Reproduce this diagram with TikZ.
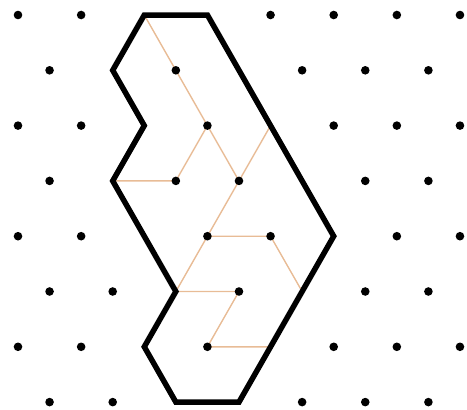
\documentclass[tikz,border=0pt]{standalone}
\definecolor{tanline}{RGB}{232,188,150}
\begin{document}
\begin{tikzpicture}[x=1pt,y=1pt,
  dotstyle/.style={fill=black},
  pathline/.style={draw=tanline,line width=1.4pt},
  outline/.style={draw=black,line width=5.5pt,line join=miter}]
\useasboundingbox (0,0) rectangle (467,-410);
\foreach \j in {0,...,7}{
  \foreach \i in {0,...,14}{
    \coordinate (p-\i-\j) at ({18+31.57*\i},{-(15+55.3*\j)});
  }
}
% tan lines
\draw[pathline] (p-4-0) -- (p-5-1) -- (p-6-2) -- (p-7-3);
\draw[pathline] (p-6-2) -- (p-5-3) -- (p-3-3);
\draw[pathline] (p-8-2) -- (p-7-3) -- (p-6-4) -- (p-5-5) -- (p-7-5) -- (p-6-6) -- (p-8-6);
\draw[pathline] (p-6-4) -- (p-8-4) -- (p-9-5);
% dots
\foreach \i/\j in {0/0,2/0,8/0,10/0,12/0,14/0,
  1/1,5/1,9/1,11/1,13/1,
  0/2,2/2,6/2,10/2,12/2,14/2,
  1/3,5/3,7/3,11/3,13/3,
  0/4,2/4,6/4,8/4,12/4,14/4,
  1/5,3/5,7/5,11/5,13/5,
  0/6,2/6,6/6,10/6,12/6,14/6,
  1/7,3/7,9/7,11/7,13/7}{
  \fill[dotstyle] (p-\i-\j) circle (4.3);
}
% outline
\draw[outline] (p-4-0) -- (p-6-0) -- (p-10-4) -- (p-7-7) -- (p-5-7) -- (p-4-6) -- (p-5-5) -- (p-3-3) -- (p-4-2) -- (p-3-1) -- cycle;
\end{tikzpicture}
\end{document}
